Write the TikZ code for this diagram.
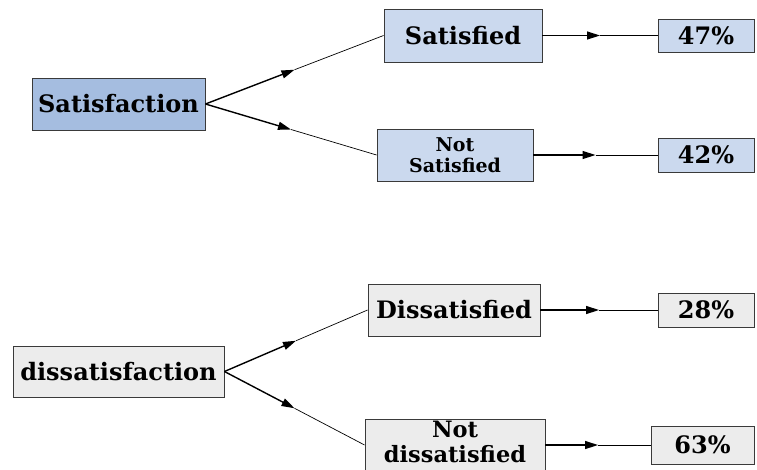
\documentclass[tikz,border=0pt]{standalone}
\usepackage{fontspec}
\usetikzlibrary{arrows.meta,positioning,calc}

\setmainfont{DejaVu Serif}
\newfontfamily\boxfont{DejaVu Serif}

\definecolor{satblue}{HTML}{A5BDE0}
\definecolor{lightblue}{HTML}{CBD9EE}
\definecolor{lightgray}{HTML}{ECECEC}
\definecolor{framegray}{HTML}{3A3A3A}

\tikzset{
  box/.style={draw=framegray,line width=0.9pt,rectangle,anchor=center,inner sep=0pt,align=center,
    font=\boxfont\bfseries\fontsize{24}{25}\selectfont},
  bluebox/.style={box,fill=lightblue},
  graybox/.style={box,fill=lightgray},
  firsthalf/.style={line width=1.4pt,-{Triangle[length=13pt,width=8pt]}},
  secondhalf/.style={line width=0.7pt}
}

\begin{document}
\begin{tikzpicture}[x=1pt,y=-1pt]

      \useasboundingbox (0,0) rectangle (757,469);

      % satisfaction tree
      \node[box,fill=satblue,minimum height = 52pt, minimum width = 173pt] at (118.5,104) (sat) {Satisfaction};

      \coordinate[above right = 68.5pt and 344.5pt of sat.center] (satdc);
      \coordinate[below right = 51pt and 336.5pt of sat.center] (notsatc);
      \node[bluebox,minimum height = 53pt, minimum width = 158pt] at (satdc) (satd) {Satisfied};
      \node[bluebox,minimum height = 52pt, minimum width = 156pt,font=\boxfont\bfseries\fontsize{19}{21}\selectfont] at (notsatc) (notsat) {Not\\Satisfied};

      \coordinate[right = 243pt of satd.center] (p47c);
      \coordinate[right = 251pt of notsat.center] (p42c);
      \node[bluebox,minimum height = 33pt, minimum width = 96pt] at (p47c) (p47) {47\%};
      \node[bluebox,minimum height = 34pt, minimum width = 96pt] at (p42c) (p42) {42\%};

      \coordinate (m1) at ($(sat.east)!0.5!(satd.west)$);
      \coordinate (m2) at ($(sat.east)!0.5!(notsat.west)$);
      \coordinate (m3) at ($(satd.east)!0.5!(p47.west)$);
      \coordinate (m4) at ($(notsat.east)!0.5!(p42.west)$);
      \draw[firsthalf] (sat.east) -- (m1);
      \draw[secondhalf] (m1) -- (satd.west);
      \draw[firsthalf] (sat.east) -- (m2);
      \draw[secondhalf] (m2) -- (notsat.west);
      \draw[firsthalf] (satd.east) -- (m3);
      \draw[secondhalf] (m3) -- (p47.west);
      \draw[firsthalf] (notsat.east) -- (m4);
      \draw[secondhalf] (m4) -- (p42.west);

      % dissatisfaction tree
      \node[graybox,minimum height = 51pt, minimum width = 211pt] at (118.5,371.5) (dis) {dissatisfaction};

      \coordinate[above right = 61.5pt and 335.5pt of dis.center] (dissdc);
      \coordinate[below right = 73.5pt and 336.5pt of dis.center] (notdisc);
      \node[graybox,minimum height = 52pt, minimum width = 172pt] at (dissdc) (dissd) {Dissatisfied};
      \node[graybox,minimum height = 52pt, minimum width = 180pt,text depth=6pt,font=\boxfont\bfseries\fontsize{22.5}{25}\selectfont] at (notdisc) (notdis) {Not\\dissatisfied};

      \coordinate[right = 252pt of dissd.center] (p28c);
      \coordinate[right = 247.5pt of notdis.center] (p63c);
      \node[graybox,minimum height = 34pt, minimum width = 96pt] at (p28c) (p28) {28\%};
      \node[graybox,minimum height = 38pt, minimum width = 103pt] at (p63c) (p63) {63\%};

      \coordinate (m5) at ($(dis.east)!0.5!(dissd.west)$);
      \coordinate (m6) at ($(dis.east)!0.5!(notdis.west)$);
      \coordinate (m7) at ($(dissd.east)!0.5!(p28.west)$);
      \coordinate (m8) at ($(notdis.east)!0.5!(p63.west)$);
      \draw[firsthalf] (dis.east) -- (m5);
      \draw[secondhalf] (m5) -- (dissd.west);
      \draw[firsthalf] (dis.east) -- (m6);
      \draw[secondhalf] (m6) -- (notdis.west);
      \draw[firsthalf] (dissd.east) -- (m7);
      \draw[secondhalf] (m7) -- (p28.west);
      \draw[firsthalf] (notdis.east) -- (m8);
      \draw[secondhalf] (m8) -- (p63.west);

\end{tikzpicture}
\end{document}
